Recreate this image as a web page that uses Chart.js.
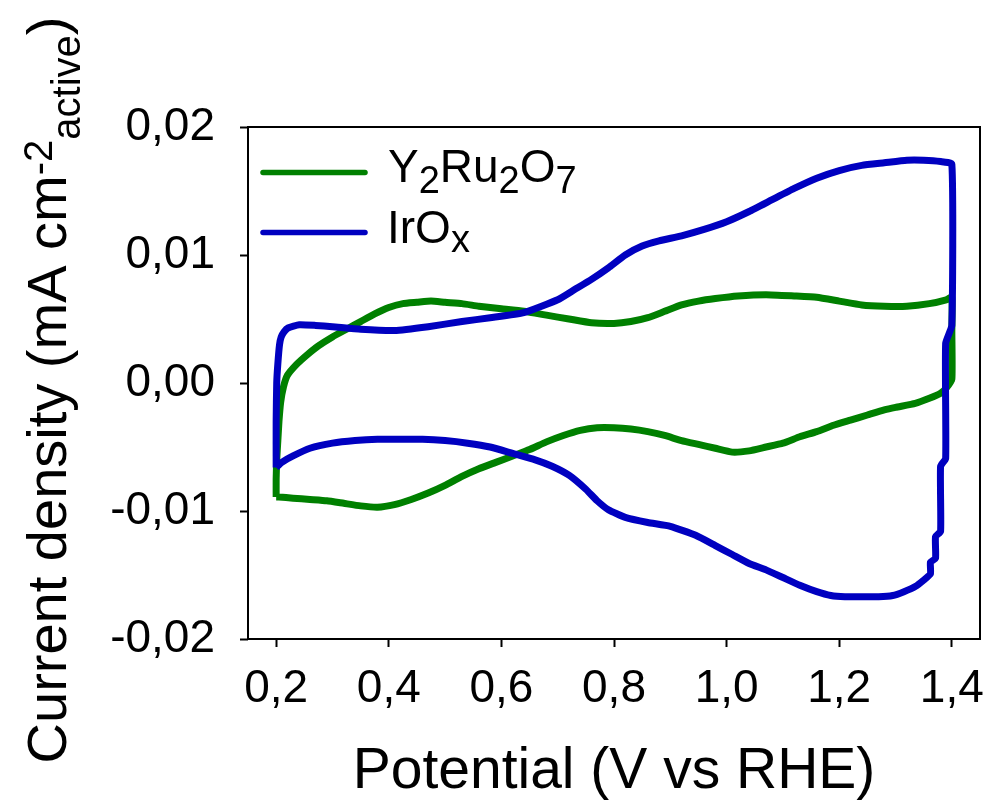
<!DOCTYPE html>
<html><head><meta charset="utf-8">
<script src="https://cdn.jsdelivr.net/npm/chart.js@4.4.0/dist/chart.umd.min.js"></script>
<style>html,body{margin:0;padding:0;background:#fff}#wrap{width:989px;height:806px}</style>
</head><body><div id="wrap"><canvas id="c" width="989" height="806"></canvas></div>
<script>
// ---- data (potential in V vs RHE, current density) ----
const y2ruPotential = [0.200,0.200,0.201,0.203,0.205,0.208,0.213,0.220,0.235,0.255,0.275,0.300,0.325,0.350,0.375,0.400,0.425,0.450,0.475,0.500,0.530,0.560,0.600,0.640,0.680,0.720,0.760,0.800,0.830,0.860,0.890,0.920,0.950,0.980,1.020,1.070,1.120,1.160,1.200,1.240,1.280,1.320,1.360,1.390,1.400,1.400,1.400,1.390,1.380,1.360,1.335,1.300,1.280,1.250,1.220,1.190,1.160,1.130,1.100,1.070,1.040,1.010,0.980,0.950,0.920,0.890,0.860,0.830,0.800,0.770,0.740,0.710,0.680,0.650,0.620,0.590,0.560,0.530,0.500,0.470,0.440,0.410,0.380,0.350,0.320,0.290,0.260,0.230,0.205,0.200];
const y2ruCurrent = [-0.0089,-0.0075,-0.0060,-0.0045,-0.0030,-0.0015,-0.0003,0.0006,0.0014,0.0022,0.0029,0.0036,0.0042,0.0048,0.0054,0.0059,0.0062,0.0063,0.0064,0.0063,0.0062,0.0060,0.0058,0.0056,0.0053,0.0050,0.0047,0.00465,0.0048,0.0051,0.0056,0.0061,0.0064,0.0066,0.0068,0.0069,0.0068,0.0067,0.0064,0.0061,0.0060,0.0060,0.0062,0.0065,0.0067,0.0040,0.0003,-0.0004,-0.0008,-0.0012,-0.0016,-0.0019,-0.0021,-0.0025,-0.0029,-0.0033,-0.0038,-0.0042,-0.0047,-0.0050,-0.0053,-0.0054,-0.0051,-0.0048,-0.0045,-0.0041,-0.0038,-0.0036,-0.0035,-0.0035,-0.0037,-0.0041,-0.0046,-0.0052,-0.0057,-0.0062,-0.0067,-0.0073,-0.0080,-0.0086,-0.0091,-0.0095,-0.0097,-0.0096,-0.0094,-0.0092,-0.0091,-0.0090,-0.0089,-0.0089];
const irOxPotential = [0.200,0.200,0.201,0.203,0.206,0.209,0.214,0.221,0.241,0.270,0.300,0.350,0.410,0.470,0.530,0.580,0.640,0.700,0.730,0.760,0.790,0.820,0.850,0.880,0.920,0.960,1.000,1.040,1.080,1.120,1.160,1.200,1.240,1.280,1.320,1.350,1.380,1.400,1.400,1.389,1.389,1.380,1.380,1.371,1.371,1.362,1.362,1.350,1.335,1.315,1.295,1.270,1.240,1.210,1.185,1.160,1.130,1.100,1.070,1.040,1.010,0.980,0.945,0.900,0.860,0.820,0.790,0.770,0.750,0.720,0.690,0.660,0.620,0.580,0.540,0.500,0.460,0.420,0.380,0.340,0.300,0.260,0.230,0.210,0.200];
const irOxCurrent = [-0.0066,-0.0030,0.0000,0.0015,0.0030,0.0036,0.0040,0.0043,0.00455,0.0045,0.0044,0.0042,0.0041,0.0044,0.0048,0.0051,0.0055,0.0065,0.0073,0.0081,0.0090,0.0100,0.0107,0.0111,0.0115,0.0120,0.0126,0.0134,0.0143,0.0152,0.0160,0.0166,0.0170,0.0172,0.0174,0.0174,0.0173,0.0171,0.0045,0.0031,-0.0059,-0.0065,-0.0116,-0.0120,-0.0137,-0.0140,-0.0149,-0.0154,-0.0159,-0.0163,-0.0166,-0.0167,-0.0167,-0.0167,-0.0166,-0.0163,-0.0158,-0.0152,-0.0146,-0.0141,-0.0134,-0.0127,-0.0119,-0.0112,-0.0109,-0.0105,-0.0099,-0.0092,-0.0083,-0.0072,-0.0065,-0.0060,-0.0055,-0.0050,-0.0047,-0.0045,-0.0044,-0.0044,-0.0044,-0.0045,-0.0047,-0.0051,-0.0057,-0.0062,-0.0066];
const xTickValues = [0.2,0.4,0.6,0.8,1.0,1.2,1.4];
const xTickLabels = ['0,2','0,4','0,6','0,8','1,0','1,2','1,4'];
const yTickValues = [-0.02,-0.01,0,0.01,0.02];
const yTickLabels = ['-0,02','-0,01','0,00','0,01','0,02'];
const xTitle = 'Potential (V vs RHE)';
// [text, 0 normal / 1 superscript / -1 subscript]
const yTitleParts = [['Current density (mA cm',0],['-2',1],['active',-1],[')',0]];
const legendY2Ru2O7 = [['Y',0],['2',-1],['Ru',0],['2',-1],['O',0],['7',-1]];
const legendIrOx = [['IrO',0],['x',-1]];

const GREEN = '#008000';
const BLUE = '#0000C0';
const FONT = "'Liberation Sans', Arial, sans-serif";

const toPts = (xs, ys) => xs.map((v, i) => ({x: v, y: ys[i]}));

function drawRich(ctx, parts, x, y, mainSize, subSize, supOff, subOff) {
  let cx = x;
  for (const [t, s] of parts) {
    ctx.font = (s === 0 ? mainSize : subSize) + 'px ' + FONT;
    const dy = s === 1 ? supOff : (s === -1 ? subOff : 0);
    ctx.fillText(t, cx, y + dy);
    cx += ctx.measureText(t).width;
  }
  return cx - x;
}
function richWidth(ctx, parts, mainSize, subSize) {
  let w = 0;
  for (const [t, s] of parts) {
    ctx.font = (s === 0 ? mainSize : subSize) + 'px ' + FONT;
    w += ctx.measureText(t).width;
  }
  return w;
}

const decor = {
  id: 'decor',
  afterDraw(chart) {
    const ctx = chart.ctx;
    const a = chart.chartArea;
    ctx.save();
    // frame
    ctx.strokeStyle = '#000';
    ctx.lineWidth = 2;
    ctx.strokeRect(a.left, a.top, a.right - a.left, a.bottom - a.top);
    // legend
    ctx.lineCap = 'round';
    ctx.lineWidth = 5.5;
    ctx.strokeStyle = GREEN;
    ctx.beginPath(); ctx.moveTo(263, 172.5); ctx.lineTo(365, 172.5); ctx.stroke();
    ctx.strokeStyle = BLUE;
    ctx.beginPath(); ctx.moveTo(263, 232.5); ctx.lineTo(365, 232.5); ctx.stroke();
    ctx.fillStyle = '#000';
    ctx.textBaseline = 'alphabetic';
    ctx.textAlign = 'left';
    drawRich(ctx, legendY2Ru2O7, 388, 182, 46, 38, 0, 11);
    drawRich(ctx, legendIrOx, 387, 243, 46, 38, 0, 9);
    // y-axis title (rotated)
    ctx.translate(66, 390);
    ctx.rotate(-Math.PI / 2);
    const w = richWidth(ctx, yTitleParts, 56, 40);
    drawRich(ctx, yTitleParts, -w / 2, 0, 56, 40, -14, 14);
    ctx.restore();
  }
};

new Chart(document.getElementById('c'), {
  type: 'scatter',
  data: {
    datasets: [
      {label: 'IrOx', data: toPts(irOxPotential, irOxCurrent), showLine: true, borderColor: BLUE, backgroundColor: BLUE, borderWidth: 7, pointRadius: 0, tension: 0.15, fill: false},
      {label: 'Y2Ru2O7', data: toPts(y2ruPotential, y2ruCurrent), showLine: true, borderColor: GREEN, backgroundColor: GREEN, borderWidth: 7, pointRadius: 0, tension: 0.15, fill: false}
    ]
  },
  options: {
    responsive: false,
    animation: false,
    devicePixelRatio: 1,
    layout: {padding: {left: 0, top: 127, right: 9, bottom: 0}},
    plugins: {legend: {display: false}, tooltip: {enabled: false}},
    scales: {
      x: {
        type: 'linear', min: 0.15, max: 1.45,
        afterBuildTicks: s => { s.ticks = xTickValues.map(v => ({value: v})); },
        afterFit: s => { s.height = 167; s.paddingLeft = 0; s.paddingRight = 0; },
        ticks: {callback: (v, i) => xTickLabels[i], font: {family: FONT, size: 46}, color: '#000', padding: 15, maxRotation: 0, autoSkip: false},
        grid: {drawOnChartArea: false, drawTicks: true, tickLength: 8, tickWidth: 2, tickColor: '#000'},
        border: {display: false},
        title: {display: true, text: xTitle, font: {family: FONT, size: 57}, color: '#000', padding: {top: 0, bottom: 0}}
      },
      y: {
        type: 'linear', min: -0.02, max: 0.02,
        afterBuildTicks: s => { s.ticks = yTickValues.map(v => ({value: v})); },
        afterFit: s => { s.width = 248; s.paddingTop = 0; s.paddingBottom = 0; },
        ticks: {callback: (v, i) => yTickLabels[i], font: {family: FONT, size: 46}, color: '#000', padding: 25, autoSkip: false},
        grid: {drawOnChartArea: false, drawTicks: true, tickLength: 8, tickWidth: 2, tickColor: '#000'},
        border: {display: false}
      }
    }
  },
  plugins: [decor]
});
</script>
</body></html>
